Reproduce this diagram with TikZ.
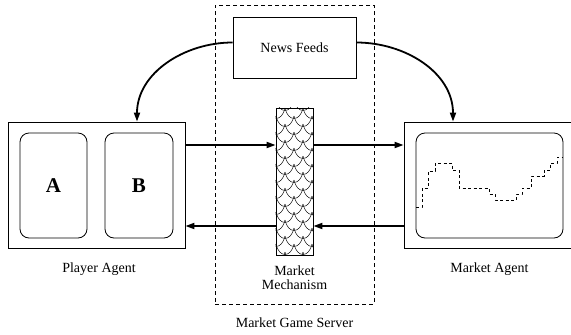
\documentclass[tikz,border=0pt]{standalone}
\usepackage{fontspec}
\setmainfont{Liberation Serif}
\usetikzlibrary{arrows.meta,calc}
\begin{document}
\begin{tikzpicture}[x=1pt,y=-1pt,
  box/.style={draw, line width=0.8pt, inner sep=0pt, minimum width=#1},
  screen/.style={draw, line width=0.8pt, rounded corners=9pt, inner sep=0pt},
  flow/.style={line width=1.8pt, -{Triangle[length=9pt,width=6pt]}},
  lbl/.style={font=\fontsize{14}{15}\selectfont, inner sep=0pt, align=center},
  servbox/.style={draw, line width=0.8pt, dash pattern=on 4pt off 3pt, inner sep=0pt}]
\useasboundingbox (0,0) rectangle (571,335);
% server dashed box
\node[servbox, minimum width=159pt, minimum height=299pt] (server) at (294.5,154.5) {};
% news feeds
\node[box=123pt, minimum height=61pt, fill=white, lbl] (news) at (294.5,47.5) {News Feeds};
% player agent
\node[box=177pt, minimum height=126pt] (player) at (96.5,185) {};
\node[screen, minimum width=67pt, minimum height=105pt, font=\fontsize{21}{24}\selectfont\bfseries] (A) at (53.5,185.5) {A};
\node[screen, minimum width=68pt, minimum height=105pt, font=\fontsize{21}{24}\selectfont\bfseries] (B) at (139,185.5) {B};
% market agent
\node[box=171pt, minimum height=126pt] (magent) at (489.5,185) {};
\node[screen, minimum width=147pt, minimum height=105pt] (graph) at (489.5,185.5) {};
% market mechanism
\node[box=37pt, minimum height=147pt, fill=white] (mech) at (294.5,181.5) {};
\begin{scope}
  \clip (mech.north west) rectangle (mech.south east);
  \foreach \j in {-1,...,19}{
    \pgfmathsetmacro{\yy}{108+\j*8}
    \pgfmathsetmacro{\off}{mod(\j+2,2)*9}
    \foreach \i in {-1,0,1,2}{
      \pgfmathsetmacro{\xx}{276+\off+\i*18-9}
      \draw[line width=0.45pt] (\xx,\yy) .. controls (\xx+3,\yy+14) and (\xx+15,\yy+14) .. (\xx+18,\yy);
    }
  }
\end{scope}
\node[box=37pt, minimum height=147pt] (mechframe) at (mech.center) {};
% graph line
\draw[line width=0.8pt, dash pattern=on 3pt off 2.5pt]
  (416,207) -- (422,207) -- (422,188) -- (428,188) -- (428,171) -- (435,171) -- (435,163)
  -- (452,163) -- (452,170) -- (459,170) -- (459,188) -- (489,188) -- (489,194) -- (495,194)
  -- (495,200) -- (516,200) -- (516,194) -- (522,194) -- (522,188) -- (531,188) -- (531,176)
  -- (544,176) -- (544,170) -- (550,170) -- (550,163) -- (557,163) -- (557,157) -- (563,157);
% labels
\node[lbl] (plbl) at (99,269) {Player Agent};
\node[lbl] (mlbl) at (489.5,269) {Market Agent};
\node[lbl, text width=80pt] (mechlbl) at (294.5,278) {Market\\[-1pt]Mechanism};
\node[lbl] (slbl) at (294.5,323) {Market Game Server};
% flows
\draw[flow] ([yshift=40pt]player.east) -- ([yshift=40pt]player.east -| mech.west);
\draw[flow] ([yshift=-41pt]mech.west |- player.east) -- ([yshift=-41pt]player.east);
\draw[flow] ([yshift=40pt]mech.east |- magent.west) -- ([yshift=40pt]magent.west);
\draw[flow] ([yshift=-41pt]magent.west) -- ([yshift=-41pt]mech.east |- magent.west);
\draw[flow] ([yshift=5pt]news.west) to[out=180,in=90] ([xshift=40.5pt]player.north);
\draw[flow] ([yshift=5pt]news.east) to[out=0,in=90] ([xshift=-36.5pt]magent.north);
\end{tikzpicture}
\end{document}
